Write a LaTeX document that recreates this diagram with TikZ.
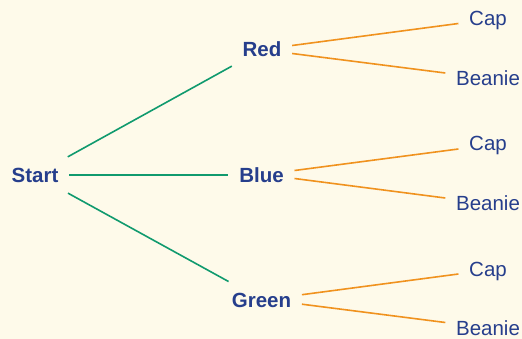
\documentclass[tikz,border=0pt]{standalone}
\usepackage{fontspec}
\setmainfont{Liberation Sans}
\usetikzlibrary{positioning}
\definecolor{treebg}{RGB}{254,250,234}
\definecolor{treeblue}{RGB}{38,62,140}
\definecolor{treegreen}{RGB}{16,154,110}
\definecolor{treeorange}{RGB}{240,146,30}

\begin{document}
\begin{tikzpicture}[x=1pt,y=1pt,on grid,line width=1.6pt,
                    main node/.style={text=treeblue,font=\fontsize{20.5}{24}\selectfont\bfseries,
                                      inner xsep=10pt,inner ysep=10pt,text height=14.7pt,text depth=0pt},
                    leaf node/.style={main node,font=\fontsize{20.5}{24}\selectfont}]

\fill[treebg] (0,0) rectangle (522,-339);
\useasboundingbox (0,0) rectangle (522,-339);

\node[main node] (start) at (35,-175) {Start};
\node[main node] (red) [above right=125.5pt and 227pt of start] {Red};
\node[main node] (blue) [right=226.5pt of start] {Blue};
\node[main node] (green) [below right=124.7pt and 226.5pt of start] {Green};
\node[leaf node] (cap1) [above right=31pt and 226pt of red] {Cap};
\node[leaf node] (beanie1) [below right=28.5pt and 226pt of red] {Beanie};
\node[leaf node] (cap2) [above right=31.5pt and 226.5pt of blue] {Cap};
\node[leaf node] (beanie2) [below right=28pt and 226.5pt of blue] {Beanie};
\node[leaf node] (cap3) [above right=30.7pt and 226.5pt of green] {Cap};
\node[leaf node] (beanie3) [below right=28.3pt and 226.5pt of green] {Beanie};

\path[treegreen]
(start) edge (red)
        edge (blue)
        edge (green);

\path[treeorange]
([yshift=4pt]red.east) edge ([yshift=-5pt]cap1.west)
([yshift=-4pt]red.east) edge ([yshift=5pt]beanie1.west)
([yshift=4.5pt]blue.east) edge ([yshift=-5.5pt]cap2.west)
([yshift=-3.5pt]blue.east) edge ([yshift=5pt]beanie2.west)
([yshift=5pt]green.east) edge ([yshift=-5pt]cap3.west)
([yshift=-4.5pt]green.east) edge ([yshift=5.5pt]beanie3.west);
\end{tikzpicture}
\end{document}
